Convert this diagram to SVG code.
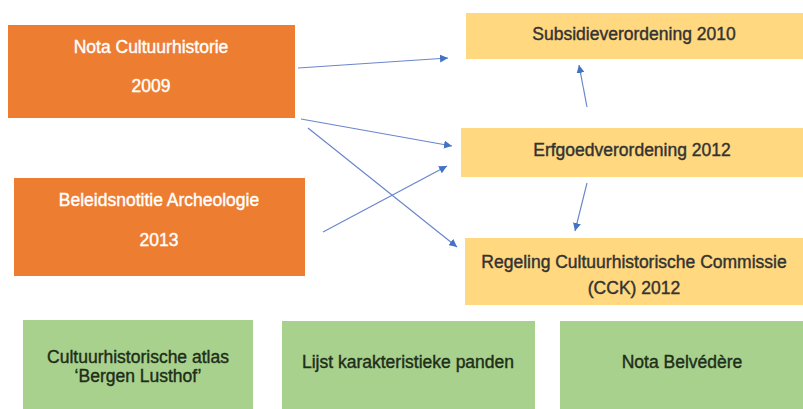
<svg xmlns="http://www.w3.org/2000/svg" width="803" height="409" viewBox="0 0 803 409">
<style>
text{font-family:"Liberation Sans",Arial,sans-serif;font-size:17.5px;text-anchor:middle;stroke-width:0.4}
.o{fill:#ED7D31}
.y{fill:#FFD87F}
.g{fill:#A9D18E}
.wt{fill:#FFFFFF;stroke:#FFFFFF}
.dt{fill:#333333;stroke:#333333}
.gt{fill:#1e2e18;stroke:#1e2e18}
.c line{stroke:#6A86CC;stroke-width:1.2;fill:none;marker-end:url(#ah)}
</style>
<defs>
<marker id="ah" viewBox="0 0 10 10" refX="10" refY="5" markerWidth="8" markerHeight="8" markerUnits="userSpaceOnUse" orient="auto">
<path d="M0,0 L10,5 L0,10 z" fill="#4472C4"/>
</marker>
</defs>
<rect width="803" height="409" fill="#FFFFFF"/>
<g id="nota-cultuurhistorie">
<rect class="o" x="8" y="25" width="287" height="93"/>
<text class="wt" x="151" y="53">Nota Cultuurhistorie</text>
<text class="wt" x="151" y="92">2009</text>
</g>
<g id="beleidsnotitie-archeologie">
<rect class="o" x="14" y="178" width="291" height="98"/>
<text class="wt" x="159" y="206">Beleidsnotitie Archeologie</text>
<text class="wt" x="159" y="246">2013</text>
</g>
<g id="subsidieverordening">
<rect class="y" x="466" y="13" width="337" height="46"/>
<text class="dt" x="634" y="40">Subsidieverordening 2010</text>
</g>
<g id="erfgoedverordening">
<rect class="y" x="461" y="128" width="342" height="49"/>
<text class="dt" x="632" y="156">Erfgoedverordening 2012</text>
</g>
<g id="regeling-cck">
<rect class="y" x="465" y="238" width="338" height="67"/>
<text class="dt" x="634" y="268">Regeling Cultuurhistorische Commissie</text>
<text class="dt" x="634" y="294">(CCK) 2012</text>
</g>
<g id="cultuurhistorische-atlas">
<rect class="g" x="23" y="320" width="230" height="89"/>
<text class="gt" x="138" y="363">Cultuurhistorische atlas</text>
<text class="gt" x="138" y="382">‘Bergen Lusthof’</text>
</g>
<g id="lijst-karakteristieke-panden">
<rect class="g" x="282" y="321" width="253" height="88"/>
<text class="gt" x="408" y="368">Lijst karakteristieke panden</text>
</g>
<g id="nota-belvedere">
<rect class="g" x="560" y="321" width="243" height="88"/>
<text class="gt" x="682" y="368">Nota Belvédère</text>
</g>
<g id="connectors" class="c">
<line x1="298" y1="68" x2="448" y2="58"/>
<line x1="301" y1="119" x2="452" y2="146"/>
<line x1="308" y1="128" x2="457" y2="247"/>
<line x1="323" y1="232" x2="447" y2="166"/>
<line x1="587" y1="107" x2="579" y2="65"/>
<line x1="587" y1="183" x2="575" y2="231"/>
</g>
</svg>
